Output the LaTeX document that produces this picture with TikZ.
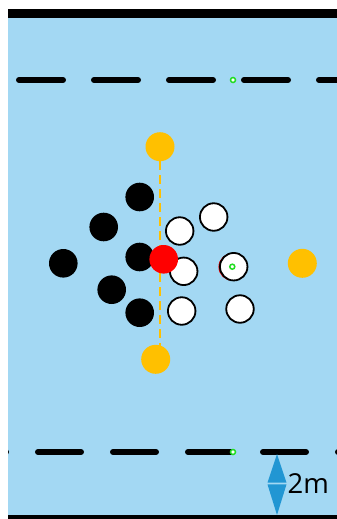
\documentclass[tikz,border=0pt]{standalone}
\usepackage{fontspec}
\setmainfont{Open Sans}
\definecolor{pitch}{HTML}{A3D8F3}
\definecolor{gold}{HTML}{FFC000}
\definecolor{ringgreen}{HTML}{22DD22}
\definecolor{arrowblue}{HTML}{2196D3}
\tikzset{
  ball/.style={circle, inner sep=0pt, minimum size=28.6pt},
  blackball/.style={ball, fill=black},
  whiteball/.style={ball, fill=white, draw=black, line width=1.8pt, minimum size=27.5pt},
  goldball/.style={ball, fill=gold, minimum size=29pt},
  redball/.style={ball, fill=red},
  marker/.style={circle, inner sep=0pt, minimum size=5pt, fill=white, draw=ringgreen, line width=1.5pt},
  lanedash/.style={line width=6pt, line cap=round},
  gline/.style={gold, line width=2pt, dash pattern=on 9pt off 5pt}
}
\begin{document}
\begin{tikzpicture}[x=1pt, y=-1pt]
\useasboundingbox (0,0) rectangle (337,519);
\fill[white] (0,0) rectangle (337,519);
\fill[pitch] (8,18) rectangle (337,515);
\fill[black] (8,9) rectangle (337,18);
\fill[black] (8,515) rectangle (337,519);
% lane lines
\begin{scope}
\clip (8,18) rectangle (337,515);
\foreach \x in {16,91,166,241,316} {\draw[lanedash] (\x+3,80) -- (\x+47,80);}
\foreach \x in {-40,35,110,185,260,335} {\draw[lanedash] (\x+3,452) -- (\x+46,452);}
\end{scope}
\node[marker] (mtop) at (233,80) {};
\node[marker] (mbot) at (233,452) {};
% yellow balls and line
\node[goldball] (ytop) at (160,146.7) {};
\node[goldball] (ybot) at (155.7,359.3) {};
\node[goldball] (yright) at (302.3,263.3) {};
\coordinate (lt) at (160,161);
\coordinate (lb) at (160,346);
\draw[gline] (lt) -- (lb);
% black balls
\node[blackball] (b1) at (139.7,197) {};
\node[blackball] (b2) at (103.7,227) {};
\node[blackball] (b3) at (63.3,263.3) {};
\node[blackball] (b4) at (139.7,257) {};
\node[blackball] (b5) at (111.7,289.7) {};
\node[blackball] (b6) at (139.7,312.7) {};
% white balls
\node[whiteball] (w1) at (179.7,231) {};
\node[whiteball] (w2) at (213.7,217) {};
\node[whiteball] (w3) at (183.7,271.3) {};
\node[redball, minimum size=27.5pt] (hidden) at (232.2,266.9) {};
\node[whiteball] (w4) at (233.7,266.7) {};
\node[whiteball] (w5) at (181.7,311) {};
\node[whiteball] (w6) at (240,309) {};
\node[marker] (mjack) at (232.3,266.7) {};
% red ball
\node[redball] (red) at (163.7,259.3) {};
% distance arrow
\fill[arrowblue] (277,454) -- (286.5,482.6) -- (267.5,482.6) -- cycle;
\fill[arrowblue] (267.5,484.4) -- (286.5,484.4) -- (277,515) -- cycle;
\node[anchor=base west, inner sep=0pt, font=\fontsize{27.5}{30}\selectfont] (dist) at (287.5,493.3) {2m};
\end{tikzpicture}
\end{document}
